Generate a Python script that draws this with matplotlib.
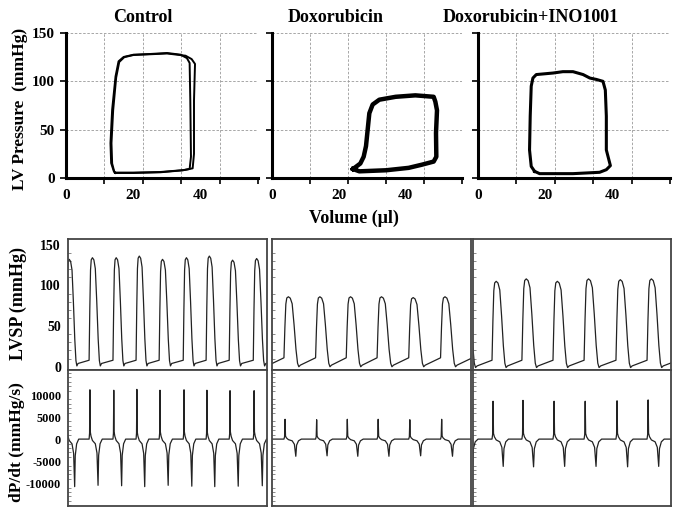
import numpy as np
import matplotlib
matplotlib.use("Agg")
import matplotlib.pyplot as plt

plt.rcParams['font.family'] = ['Liberation Serif', 'DejaVu Serif']
plt.rcParams['font.weight'] = 'bold'
plt.rcParams['axes.unicode_minus'] = False

# ---- PV loops (volume ul, pressure mmHg) ----
titles = ["Control", "Doxorubicin", "Doxorubicin+INO1001"]

control_vol = [14.7, 20.1, 28.0, 34.5, 36.7, 37.1, 36.9, 36.7, 35.9, 34.0, 30.0,
               25.0, 20.1, 17.1, 15.6, 14.7, 13.7, 13.2, 13.4, 14.2, 14.7]
control_prs = [5.2, 5.2, 5.9, 7.9, 9.3, 22, 81, 119, 124, 127.6, 129.3,
               128.3, 127.6, 125.2, 120.7, 105, 70.7, 36, 15.5, 6.9, 5.2]
control_vol_b = [14.5, 20.0, 28.0, 35.0, 37.6, 38.0, 38.0, 38.3, 37.3, 35.5, 30.0,
                 25.0, 20.0, 17.3, 15.8, 14.9, 14.0, 13.5, 13.7, 14.3, 14.5]
control_prs_b = [5.6, 5.6, 6.2, 8.2, 10, 25, 80, 118, 123, 126.5, 128.8,
                 128, 127.2, 125, 120, 104, 70, 36, 15, 7, 5.6]

doxo_vol = [24.3, 26.2, 34.2, 41.0, 45.0, 48.5, 49.3, 49.2, 49.5, 49.0, 48.5,
            43.0, 37.1, 32.2, 30.2, 29.2, 28.7, 28.2, 27.5, 26.5, 24.3]
doxo_prs = [9.3, 6.9, 8.0, 10.5, 13.8, 17.0, 22.0, 46.5, 70.0, 79.0, 84.0,
            85.5, 84.0, 81.0, 76.0, 67.0, 50.0, 33.0, 22.0, 15.0, 9.3]

ino_vol = [16.8, 18.3, 28.2, 36.1, 38.1, 39.3, 38.1, 38.1, 37.8, 37.1, 35.1, 33.2,
           31.2, 28.2, 25.2, 22.3, 17.3, 16.3, 15.8, 15.5, 15.3, 15.8, 16.8]
ino_prs = [6.9, 4.5, 4.5, 5.9, 8.6, 12.8, 29, 64, 91, 100, 102, 103.4,
           107, 110, 110, 108.6, 107, 103.4, 95, 64, 29, 12, 6.9]

# ---- pressure traces: beat onset (ms), peak LVSP, dP/dt max/min ----
control_beat_ms = [-10, 106, 226, 342, 458, 579, 694, 810, 931]
control_lvsp_peak = [132, 134, 134, 136, 132, 134, 136, 131, 133]
control_dpdt_max = [11000, 11200, 11100, 11300, 11100, 11200, 11100, 11000, 11000]
control_dpdt_min = [-10800, -10500, -10600, -10800, -10500, -10700, -10800, -10700, -10600]
control_diast = (1, 4, 8)   # trough, early diastole, end diastole

doxo_beat_ms = [-99, 60, 219, 373, 528, 687, 847]
doxo_lvsp_peak = [86, 86, 86, 86, 86, 85, 86]
doxo_dpdt_max = [4500, 4500, 4400, 4500, 4500, 4400, 4500]
doxo_dpdt_min = [-3900, -3900, -3800, -3900, -3900, -3800, -3900]
doxo_diast = (0, 2, 11)

ino_beat_ms = [-61, 96, 247, 404, 561, 722, 879]
ino_lvsp_peak = [107, 105, 108, 105, 108, 107, 108]
ino_dpdt_max = [8600, 8600, 8800, 8600, 8600, 8700, 8900]
ino_dpdt_min = [-6200, -6200, -6300, -6200, -6200, -6300, -6200]
ino_diast = (-1, 1, 8)

# beat shape (fraction of the cycle)
up_phase = [0.00, 0.03, 0.06, 0.09, 0.14]
up_shape = [0.00, 0.50, 0.88, 0.98, 1.00]
down_phase = [0.20, 0.26, 0.32, 0.38, 0.43, 0.47]
down_shape = [0.98, 0.90, 0.60, 0.25, 0.05, 0.00]
dp_phase = [0.00, 0.02, 0.035, 0.05, 0.08, 0.14, 0.26, 0.33, 0.375, 0.40, 0.46, 0.55]
dp_pos = [0, 0.12, 1.0, 0.15, 0.06, 0, 0, 0, 0, 0, 0, 0]
dp_neg = [0, 0, 0, 0, 0, 0.03, 0.10, 0.30, 1.0, 0.35, 0.10, 0]


def periods(beats):
    b = np.array(beats, dtype=float)
    T = np.diff(b)
    return b, np.append(T, T[-1])


def lvsp_trace(beats, peaks, diast):
    trough, edp0, edp1 = diast
    b, T = periods(beats)
    ts, vs = [], []
    for t0, per, pk in zip(b, T, peaks):
        ts += list(t0 + per * np.array(up_phase + down_phase + [0.52]))
        vs += [edp1 + f * (pk - edp1) for f in up_shape]
        vs += [trough + f * (pk - trough) for f in down_shape]
        vs += [edp0]
    ts.append(b[-1] + T[-1])
    vs.append(edp1)
    return ts, vs


def dpdt_trace(beats, pmax, pmin):
    b, T = periods(beats)
    ts, vs = [], []
    for t0, per, hi, lo in zip(b, T, pmax, pmin):
        ts += list(t0 + per * np.array(dp_phase))
        vs += [p * hi + n * lo for p, n in zip(dp_pos, dp_neg)]
    ts.append(b[-1] + T[-1])
    vs.append(0)
    return ts, vs


W, H = 682, 516
fig = plt.figure(figsize=(W / 100, H / 100), dpi=100)


def box(x0, y0, x1, y1):
    return [x0 / W, 1 - y1 / H, (x1 - x0) / W, (y1 - y0) / H]


# ---------- top row: PV loops ----------
pv_pos = [(66, 33, 258, 178), (272, 33, 462, 178), (478, 33, 670, 178)]
loops = [[(control_vol, control_prs), (control_vol_b, control_prs_b)],
         [(doxo_vol, doxo_prs)],
         [(ino_vol, ino_prs)]]
loop_lw = [1.4, 3.2, 2.2]
title_x = [143, 336, 531]
xmax = 57
for i in range(3):
    ax = fig.add_axes(box(*pv_pos[i]))
    for v, p in loops[i]:
        ax.plot(v, p, color='black', lw=loop_lw[i], solid_joinstyle='round')
    ax.set_xlim(0, xmax)
    ax.set_ylim(0, 150)
    ax.set_xticks(np.linspace(0, xmax, 6)[1:], minor=True)
    ax.set_xticks([0, 20, 40])
    ax.tick_params(axis='x', which='major', length=0, pad=8, labelsize=11)
    ax.tick_params(axis='x', which='minor', length=4, width=1.2, direction='out')
    ax.set_yticks([0, 50, 100, 150])
    ax.tick_params(axis='y', length=4, width=1.2, labelsize=11, pad=4)
    if i > 0:
        ax.set_yticklabels([])
    ax.grid(True, axis='x', which='minor', color='#999999', ls=(0, (3, 2)), lw=0.6)
    ax.grid(True, axis='y', which='major', color='#999999', ls=(0, (3, 2)), lw=0.6)
    for s in ['top', 'right']:
        ax.spines[s].set_visible(False)
    for s in ['left', 'bottom']:
        ax.spines[s].set_linewidth(2.2)
    fig.text(title_x[i] / W, 1 - 17 / H, titles[i], ha='center', va='center',
             fontsize=13, fontweight='bold')

fig.text(20 / W, 1 - 109 / H, "LV Pressure  (mmHg)", rotation=90, ha='center',
         va='center', fontsize=12.5, fontweight='bold')
fig.text(354 / W, 1 - 218 / H, "Volume (\u03bcl)", ha='center', va='center',
         fontsize=13, fontweight='bold')

# ---------- bottom: LVSP and dP/dt traces ----------
cols = [(68, 267), (272, 471), (473, 671)]
groups = [(control_beat_ms, control_lvsp_peak, control_diast, control_dpdt_max, control_dpdt_min),
          (doxo_beat_ms, doxo_lvsp_peak, doxo_diast, doxo_dpdt_max, doxo_dpdt_min),
          (ino_beat_ms, ino_lvsp_peak, ino_diast, ino_dpdt_max, ino_dpdt_min)]
frame_col = '#444444'
trace_col = '#222222'
for i, (x0, x1) in enumerate(cols):
    beats, peaks, diast, dmax, dmin = groups[i]
    a1 = fig.add_axes(box(x0, 239, x1, 370))
    a2 = fig.add_axes(box(x0, 370, x1, 506))
    t, v = lvsp_trace(beats, peaks, diast)
    a1.plot(t, v, color=trace_col, lw=0.9)
    t, v = dpdt_trace(beats, dmax, dmin)
    a2.plot(t, v, color=trace_col, lw=0.9)
    a1.set_ylim(-4, 157)
    a2.set_ylim(-15200, 15700)
    a1.set_yticks([0, 50, 100, 150])
    a2.set_yticks([10000, 5000, 0, -5000, -10000])
    a1.set_yticks(np.arange(0, 160, 10), minor=True)
    a2.set_yticks(np.arange(-15000, 15001, 1000), minor=True)
    for a in (a1, a2):
        a.set_xlim(0, 1000)
        a.set_xticks([])
        a.tick_params(axis='y', which='minor', length=2, width=0.6,
                      direction='in', color='#777777')
        if i > 0:
            a.set_yticklabels([])
        for s in a.spines.values():
            s.set_color(frame_col)
            s.set_linewidth(1.3)
    a1.tick_params(axis='y', which='major', length=0, labelsize=10, pad=5)
    a2.tick_params(axis='y', which='major', length=0, labelsize=8.8, pad=5)

fig.text(18 / W, 1 - 304 / H, "LVSP (mmHg)", rotation=90, ha='center',
         va='center', fontsize=13, fontweight='bold')
fig.text(17 / W, 1 - 442 / H, "dP/dt (mmHg/s)", rotation=90, ha='center',
         va='center', fontsize=12.5, fontweight='bold')

fig.savefig("out.png", dpi=100)
